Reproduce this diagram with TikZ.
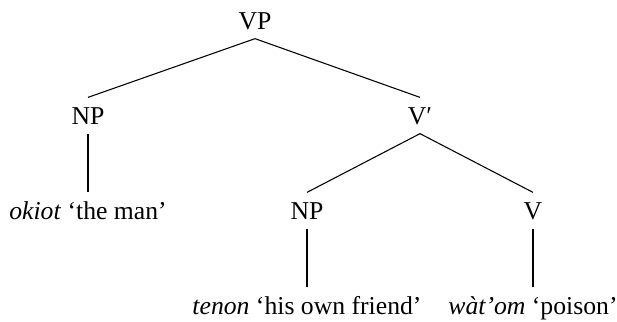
\documentclass[tikz,border=0pt]{standalone}
\usepackage{fontspec}
\setmainfont{Liberation Serif}
\begin{document}
\begin{tikzpicture}[x=0.467pt,y=-0.467pt,
  every node/.style={font=\fontsize{12}{14}\selectfont},
  lab/.style={anchor=base, inner xsep=0pt, inner ysep=4.3pt, text height=7.94pt, text depth=0pt},
  branch/.style={line width=0.5pt}]
\useasboundingbox (0,0) rectangle (617,321);
\node[lab] (vp)  at (255,29)  {VP};
\node[lab] (np1) at (88,124)  {NP};
\node[lab] (vb)  at (420,124) {V′};
\node[lab] (lf1) at (88,219)  {\textit{okiot} ‘the man’};
\node[lab] (np2) at (307,219) {NP};
\node[lab] (v)   at (533,219) {V};
\node[lab] (lf2) at (307,314) {\textit{tenon} ‘his own friend’};
\node[lab] (lf3) at (533,314) {\textit{wàt’om} ‘poison’};
\draw[branch] (vp.south) -- (np1.north);
\draw[branch] (vp.south) -- (vb.north);
\draw[branch] (np1.south) -- (lf1.north);
\draw[branch] (vb.south) -- (np2.north);
\draw[branch] (vb.south) -- (v.north);
\draw[branch] (np2.south) -- (lf2.north);
\draw[branch] (v.south) -- (lf3.north);
\end{tikzpicture}
\end{document}
